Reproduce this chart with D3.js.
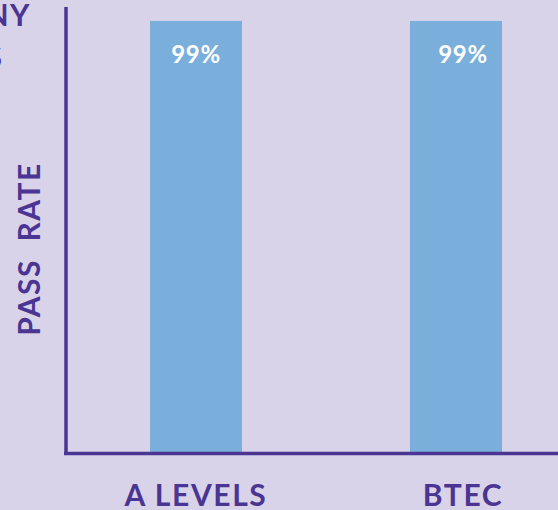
<!DOCTYPE html>
<html>
<head>
<meta charset="utf-8">
<script src="https://cdn.jsdelivr.net/npm/d3@7"></script>
<style>
  html, body { margin: 0; padding: 0; background: #d9d3ea; overflow: hidden; }
  text { font-family: Lato, "Open Sans", sans-serif; font-weight: bold; }
</style>
</head>
<body>
<script>
var categories = ["A LEVELS", "BTEC"];
var passRates = [99, 99];
var valueLabels = ["99%", "99%"];

var svgWidth = 558;
var svgHeight = 510;

var purple = "#4a3592";
var barColor = "#7aafdc";

var svg = d3.select("body")
    .append("svg")
    .attr("width", svgWidth)
    .attr("height", svgHeight);

var x = d3.scaleBand()
    .domain(categories)
    .range([66, 586])
    .paddingInner(0.646)
    .paddingOuter(0.323);

var y = d3.scaleLinear()
    .domain([0, 100])
    .range([452, 16.6]);

// bars
svg.selectAll("rect.bar")
    .data(categories)
    .enter()
    .append("rect")
    .attr("class", "bar")
    .attr("x", d => x(d))
    .attr("y", (d, i) => y(passRates[i]))
    .attr("width", x.bandwidth())
    .attr("height", (d, i) => y(0) - y(passRates[i]))
    .attr("fill", barColor);

// value labels inside bars
svg.selectAll("text.value")
    .data(categories)
    .enter()
    .append("text")
    .attr("class", "value")
    .attr("x", d => x(d) + x.bandwidth() / 2 + (d === "BTEC" ? 7 : 0))
    .attr("y", 63)
    .attr("text-anchor", "middle")
    .attr("fill", "#ffffff")
    .style("font-size", "24px")
    .style("letter-spacing", "0.6px")
    .text((d, i) => valueLabels[i]);

// axes lines
svg.append("line")
    .attr("x1", 66).attr("x2", 66)
    .attr("y1", 7).attr("y2", 455)
    .attr("stroke", purple)
    .attr("stroke-width", 3.5);

svg.append("line")
    .attr("x1", 64).attr("x2", svgWidth)
    .attr("y1", 453.5).attr("y2", 453.5)
    .attr("stroke", purple)
    .attr("stroke-width", 3.5);

// category labels
svg.selectAll("text.cat")
    .data(categories)
    .enter()
    .append("text")
    .attr("class", "cat")
    .attr("x", d => x(d) + x.bandwidth() / 2 + (d === "BTEC" ? 7 : 0))
    .attr("y", 506)
    .attr("text-anchor", "middle")
    .attr("fill", purple)
    .style("font-size", "30px")
    .style("letter-spacing", "1.6px")
    .text(d => d);

// y axis title
svg.append("text")
    .attr("transform", "translate(40, 249) rotate(-90)")
    .attr("text-anchor", "middle")
    .attr("fill", purple)
    .style("font-size", "30px")
    .style("letter-spacing", "1.5px")
    .style("white-space", "pre")
    .attr("xml:space", "preserve")
    .text("PASS  RATE");

// cut-off title at top left
svg.append("text")
    .attr("x", 31)
    .attr("y", 26)
    .attr("text-anchor", "end")
    .attr("fill", purple)
    .style("font-size", "30px")
    .style("letter-spacing", "1.5px")
    .text("COMPANY");

svg.append("text")
    .attr("x", 2)
    .attr("y", 68)
    .attr("text-anchor", "end")
    .attr("fill", purple)
    .style("font-size", "30px")
    .text("YEARS");
</script>
</body>
</html>
